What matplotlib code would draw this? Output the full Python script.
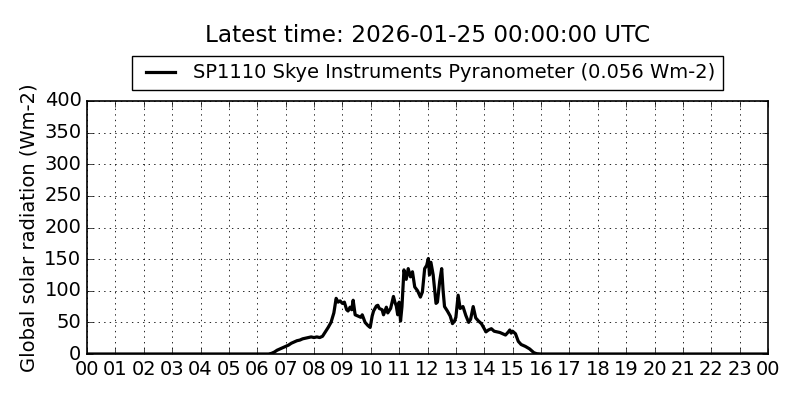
import matplotlib
matplotlib.use("Agg")
import matplotlib.pyplot as plt

plt.style.use("classic")

hours = [0.0, 6.4, 6.5, 6.6, 6.7, 6.8, 6.9, 7.0, 7.1, 7.2, 7.3, 7.4, 7.5, 7.6, 7.7, 7.8, 7.9,
         8.0, 8.1, 8.2, 8.3, 8.4, 8.5, 8.6, 8.7, 8.78, 8.85, 8.92, 9.0, 9.07, 9.15, 9.2, 9.27,
         9.33, 9.38, 9.45, 9.55, 9.65, 9.7, 9.8, 9.9, 9.98, 10.05, 10.1, 10.2, 10.25, 10.3,
         10.4, 10.45, 10.55, 10.6, 10.7, 10.8, 10.85, 10.9, 10.95, 11.0, 11.05, 11.1, 11.17,
         11.25, 11.32, 11.4, 11.47, 11.55, 11.65, 11.75, 11.82, 11.9, 11.97, 12.03, 12.07,
         12.12, 12.2, 12.3, 12.35, 12.43, 12.5, 12.55, 12.6, 12.7, 12.8, 12.88, 12.95, 13.0,
         13.08, 13.15, 13.25, 13.35, 13.45, 13.52, 13.61, 13.7, 13.8, 13.9, 14.0, 14.06,
         14.15, 14.25, 14.35, 14.45, 14.55, 14.65, 14.75, 14.85, 14.9, 14.95, 15.0, 15.1,
         15.2, 15.3, 15.45, 15.6, 15.75, 15.85, 16.0, 24.0]
radiation = [0, 0, 1, 3, 6, 8, 10, 12, 14, 17, 19, 21, 22, 24, 25, 26, 27,
             26, 27, 26, 28, 35, 42, 50, 65, 88, 82, 84, 80, 82, 70, 68, 74,
             70, 85, 62, 60, 58, 62, 50, 45, 42, 60, 68, 76, 77, 72,
             70, 62, 74, 65, 72, 91, 82, 76, 62, 82, 52, 75, 133,
             118, 135, 122, 130, 106, 100, 90, 98, 135, 140, 151, 125,
             145, 125, 80, 82, 115, 135, 100, 75, 68, 60, 48, 52, 58,
             93, 72, 75, 61, 50, 55, 75, 57, 52, 48, 40, 35,
             38, 40, 36, 35, 34, 32, 30, 35, 38, 33, 36, 32,
             20, 15, 12, 8, 2, 0.5, 0, 0]

xticks = list(range(0, 25))
xticklabels = ["%02d" % (h % 24) for h in xticks]
yticks = list(range(0, 401, 50))

title = "Latest time: 2026-01-25 00:00:00 UTC"
series_label = "SP1110 Skye Instruments Pyranometer (0.056 Wm-2)"
ylabel = "Global solar radiation (Wm-2)"

fig = plt.figure(figsize=(8, 4), dpi=100, facecolor="white")
ax = fig.add_axes([0.10875, 0.115, 0.85125, 0.6325])
ax.plot(hours, radiation, color="black", linewidth=2.3, label=series_label)
ax.set_xlim(0, 24)
ax.set_ylim(0, 400)
ax.set_xticks(xticks)
ax.set_xticklabels(xticklabels)
ax.set_yticks(yticks)
ax.tick_params(labelsize=14)
ax.grid(True, color="black", linestyle=":", linewidth=0.6)
ax.set_ylabel(ylabel, fontsize=14, labelpad=4)
for s in ax.spines.values():
    s.set_linewidth(1.2)
ax.legend(loc="lower center", bbox_to_anchor=(0.5, 1.02), fontsize=14, ncol=1,
          frameon=True, borderaxespad=0.3, handlelength=2.1, handletextpad=0.6)
fig.text(0.535, 0.9125, title, ha="center", va="center", fontsize=16.7)
fig.savefig("out.png", dpi=100, facecolor="white")
